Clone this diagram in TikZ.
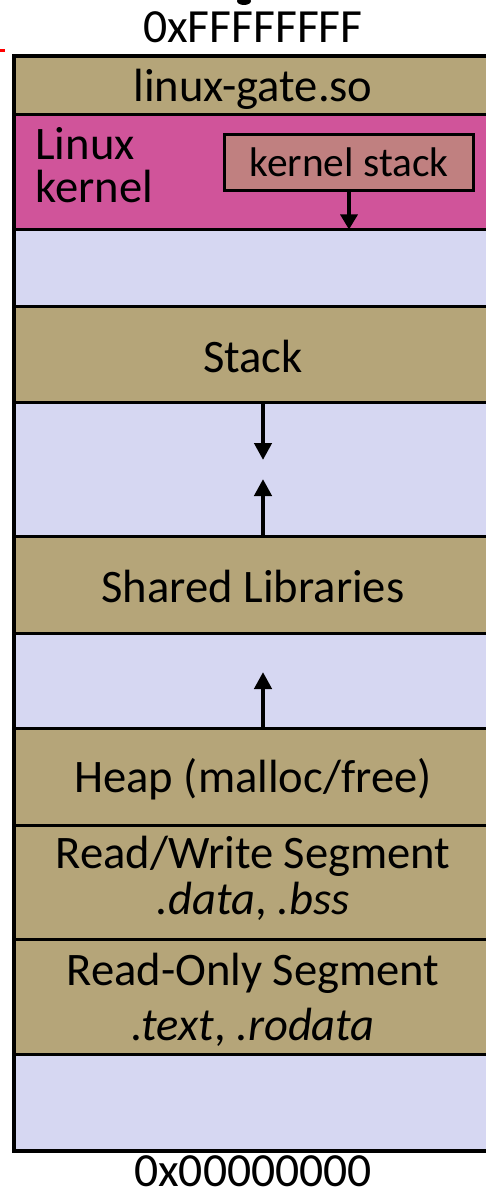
\documentclass[tikz,border=0pt]{standalone}
\usepackage{fontspec}
\setmainfont{Carlito}
\usetikzlibrary{arrows.meta}
\definecolor{segtan}{RGB}{181,165,121}
\definecolor{kernpink}{RGB}{208,84,154}
\definecolor{freelav}{RGB}{214,215,242}
\definecolor{kstackred}{RGB}{192,128,128}

\begin{document}
\begin{tikzpicture}[x=0.5pt,y=-0.5pt,
  seg/.style={fill=segtan},
  gap/.style={fill=freelav},
  lbl/.style={font=\fontsize{23.3}{28}\selectfont,anchor=base,inner sep=0},
  addr/.style={lbl,font=\fontsize{23.8}{28}\selectfont},
  growarrow/.style={line width=2.3pt,-{Triangle[width=8.5pt,length=8.5pt]}}]
\clip (0,0) rectangle (486,1198);

% regions, top to bottom
\fill[seg] (14,56) rectangle (520,114.5);
\fill[kernpink] (14,114.5) rectangle (520,229.5);
\fill[gap] (14,229.5) rectangle (520,306);
\fill[seg] (14,306) rectangle (520,402);
\fill[gap] (14,402) rectangle (520,536);
\fill[seg] (14,536) rectangle (520,633);
\fill[gap] (14,633) rectangle (520,728);
\fill[seg] (14,728) rectangle (520,1054);
\fill[gap] (14,1054) rectangle (520,1151);
\foreach \y in {114.5,229.5,306,402,536,633,728,825,939,1054}
  \draw[line width=1.5pt] (14,\y) -- (520,\y);
\draw[line width=2pt] (520,56) -- (14,56) -- (14,1151) -- (520,1151);

\node[addr] (top) at (253,43) {0xFFFFFFFF};
\node[addr] (bot) at (253,1186) {0x00000000};
\node[lbl] (gate) at (253,102) {linux-gate.so};
\node[lbl,anchor=base west] (linux) at (35,160) {Linux};
\node[lbl,anchor=base west] (kern) at (35,203) {kernel};
\node[draw,line width=1.5pt,fill=kstackred,minimum width=124.5pt,minimum height=28pt,
  inner sep=0,font=\fontsize{20.7}{24}\selectfont] (ks) at (349,162.5) {kernel stack};
\node[lbl] (stack) at (253,372) {Stack};
\node[lbl] (shlib) at (253,602) {Shared Libraries};
\node[lbl] (heap) at (253,792) {Heap (malloc/free)};
\node[lbl] (rw) at (253,868) {Read/Write Segment};
\node[lbl] (rwsec) at (253,914) {\textit{.data}, \textit{.bss}};
\node[lbl] (ro) at (253,985) {Read-Only Segment};
\node[lbl] (rosec) at (253,1040) {\textit{.text}, \textit{.rodata}};

\coordinate (ksend) at (349,229.5);
\coordinate (stktop) at (263,402);
\coordinate (stkgrow) at (263,460);
\coordinate (libtop) at (263,536);
\coordinate (libgrow) at (263,479);
\coordinate (heaptop) at (263,728);
\coordinate (heapgrow) at (263,672);
\path[growarrow] (stktop) edge (stkgrow) (libtop) edge (libgrow) (heaptop) edge (heapgrow);
\draw[line width=1.6pt,-{Triangle[width=8.5pt,length=7.5pt]}] (ks.south) -- (ksend);

% cut-off bits at the edges
\draw[red,line width=1.5pt] (0,50.5) -- (5,50.5);
\fill (244,1) ellipse [x radius=3.5pt,y radius=2pt];
\end{tikzpicture}
\end{document}
